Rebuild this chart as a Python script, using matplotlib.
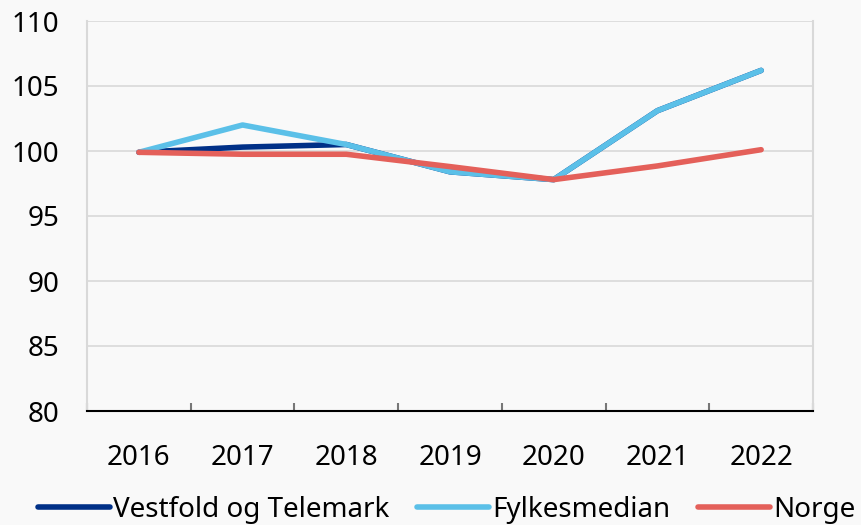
import numpy as np
import matplotlib
matplotlib.use("Agg")
import matplotlib.pyplot as plt

# data
years = ["2016", "2017", "2018", "2019", "2020", "2021", "2022"]
vestfold = [99.9, 100.3, 100.5, 98.4, 97.8, 103.1, 106.2]
fylkesmedian = [99.9, 102.0, 100.5, 98.4, 97.8, 103.1, 106.2]
norge = [99.9, 99.75, 99.75, 98.8, 97.8, 98.85, 100.1]

plt.rcParams['font.family'] = ['Noto Sans', 'DejaVu Sans']
bg = '#f9f9f9'

fig = plt.figure(figsize=(8.61, 5.25), dpi=100, facecolor=bg)
ax = fig.add_axes([87/861, 1 - 411/525, 726/861, 390/525], facecolor=bg)

x = np.arange(len(years))
ax.plot(x, vestfold, color='#003087', lw=4, solid_capstyle='round', label='Vestfold og Telemark', zorder=3)
ax.plot(x, fylkesmedian, color='#5bc0e8', lw=4, solid_capstyle='round', label='Fylkesmedian', zorder=4)
ax.plot(x, norge, color='#e4605a', lw=4, solid_capstyle='round', label='Norge', zorder=5)

ax.set_xlim(-0.5, len(years) - 0.5)
ax.set_ylim(80, 110)
ax.set_yticks(np.arange(80, 111, 5))
ax.grid(axis='y', color='#d9d9d9', lw=1.2)
ax.set_axisbelow(True)

ax.set_xticks(x)
ax.set_xticklabels(years)
ax.set_xticks(np.arange(-0.5, len(years)), minor=True)
ax.tick_params(axis='x', which='major', length=0, pad=24, labelsize=20)
ax.tick_params(axis='x', which='minor', direction='in', length=6, width=1.5, color='#777777')
ax.tick_params(axis='y', length=0, pad=20, labelsize=20)

for s in ['left', 'right', 'top']:
    ax.spines[s].set_color('#d9d9d9')
    ax.spines[s].set_linewidth(1.5)
ax.spines['top'].set_visible(False)
ax.spines['bottom'].set_color('black')
ax.spines['bottom'].set_linewidth(1.5)

fig.legend(loc='center left', bbox_to_anchor=(38/861, 1 - 510/525), ncol=3,
           frameon=False, fontsize=20, handlelength=2.6, handletextpad=0.1,
           columnspacing=1.0, borderpad=0, borderaxespad=0)

fig.savefig('out.png', dpi=100, facecolor=bg)
